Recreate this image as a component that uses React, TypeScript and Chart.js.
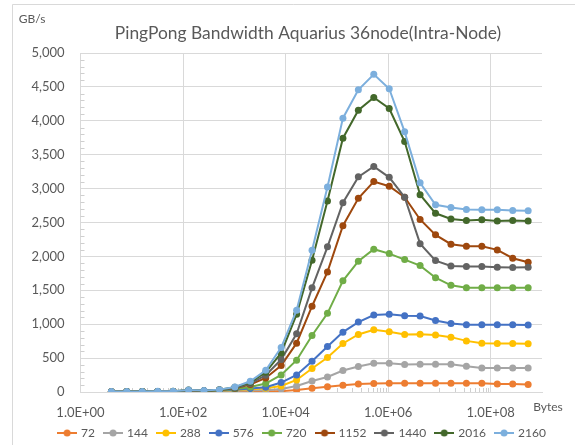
import React, { useEffect, useRef } from 'react';
import { Chart, registerables } from 'chart.js';

Chart.register(...registerables);

// ---- data ----
const bytes = [
  4, 8, 16, 32, 64, 128, 256, 512, 1024, 2048, 4096, 8192, 16384, 32768,
  65536, 131072, 262144, 524288, 1048576, 2097152, 4194304, 8388608,
  16777216, 33554432, 67108864, 134217728, 268435456, 536870912,
];

const seriesNames = ['72', '144', '288', '576', '720', '1152', '1440', '2016', '2160'];

const s72 = [3, 4, 4, 5, 5, 6, 6, 6, 8, 10, 10, 12, 30, 55, 78, 100, 118, 125, 129, 129, 129, 129, 129, 129, 129, 118, 118, 112];
const s144 = [4, 5, 5, 6, 7, 12, 12, 15, 20, 25, 25, 44, 89, 163, 222, 316, 375, 425, 425, 405, 410, 410, 410, 380, 355, 355, 355, 355];
const s288 = [4, 5, 6, 6, 8, 15, 14, 20, 30, 40, 55, 89, 178, 346, 509, 716, 849, 917, 888, 849, 853, 839, 809, 754, 720, 716, 716, 713];
const s576 = [5, 5, 6, 7, 8, 18, 15, 22, 35, 50, 70, 139, 252, 454, 671, 883, 1031, 1135, 1145, 1125, 1120, 1056, 1012, 991, 991, 991, 991, 987];
const s720 = [5, 6, 6, 7, 8, 20, 16, 25, 45, 74, 124, 252, 469, 834, 1160, 1640, 1930, 2106, 2041, 1953, 1864, 1686, 1574, 1539, 1539, 1539, 1539, 1539];
const s1152 = [5, 6, 7, 7, 9, 22, 18, 28, 55, 109, 207, 390, 720, 1265, 1771, 2453, 2858, 3104, 3035, 2873, 2545, 2318, 2180, 2151, 2151, 2096, 1973, 1914];
const s1440 = [5, 6, 7, 8, 9, 25, 19, 30, 60, 125, 247, 479, 858, 1536, 2141, 2793, 3173, 3326, 3166, 2873, 2188, 1938, 1860, 1850, 1850, 1840, 1835, 1840];
const s2016 = [5, 6, 8, 9, 10, 28, 20, 32, 70, 143, 291, 577, 1145, 1944, 2816, 3743, 4157, 4345, 4182, 3694, 2910, 2636, 2553, 2530, 2540, 2521, 2530, 2521];
const s2160 = [6, 7, 8, 10, 12, 30, 22, 35, 75, 158, 321, 656, 1206, 2090, 3024, 4039, 4458, 4685, 4473, 3837, 3087, 2762, 2722, 2692, 2688, 2688, 2678, 2673];

const seriesValues = [s72, s144, s288, s576, s720, s1152, s1440, s2016, s2160];

const xTickValues = [1, 1e2, 1e4, 1e6, 1e8];
const xTickLabels = ['1.0E+00', '1.0E+02', '1.0E+04', '1.0E+06', '1.0E+08'];

const titleText = 'PingPong Bandwidth Aquarius 36node(Intra-Node)';
const yAxisTitle = 'GB/s';
const xAxisTitle = 'Bytes';

// ---- styles ----
const colors = ['#ED7D31', '#A5A5A5', '#FFC000', '#4472C4', '#70AD47', '#9E480E', '#636363', '#43682B', '#7CAFDD'];
const FONT = 'Lato, "Noto Sans", sans-serif';
const TEXT = '#595959';
const GRID = '#d9d9d9';

function legendIcon(color: string): HTMLCanvasElement {
  const c = document.createElement('canvas');
  c.width = 20;
  c.height = 10;
  const g = c.getContext('2d')!;
  g.strokeStyle = color;
  g.lineWidth = 2;
  g.beginPath();
  g.moveTo(0, 5);
  g.lineTo(20, 5);
  g.stroke();
  g.fillStyle = color;
  g.beginPath();
  g.arc(10, 5, 3.5, 0, Math.PI * 2);
  g.fill();
  return c;
}

const decor = {
  id: 'decor',
  beforeDraw(chart: any) {
    const { ctx, width, height } = chart;
    ctx.save();
    ctx.fillStyle = '#ffffff';
    ctx.fillRect(0, 0, width, height);
    ctx.strokeStyle = GRID;
    ctx.lineWidth = 1;
    ctx.beginPath();
    ctx.moveTo(12.5, height);
    ctx.lineTo(12.5, 4.5);
    ctx.lineTo(width, 4.5);
    ctx.stroke();
    ctx.restore();
  },
  beforeDatasetsDraw(chart: any) {
    const { ctx, chartArea, scales } = chart;
    const xs = scales.x;
    const ys = scales.y;
    ctx.save();
    ctx.strokeStyle = '#cfcfcf';
    ctx.lineWidth = 1;
    ctx.beginPath();
    for (let e = 1; e <= 7; e += 2) {
      for (let k = 1; k <= 9; k++) {
        const v = k * Math.pow(10, e);
        const px = Math.round(xs.getPixelForValue(v)) + 0.5;
        ctx.moveTo(px, chartArea.bottom);
        ctx.lineTo(px, chartArea.bottom - 4);
      }
    }
    for (let v = 100; v < 5000; v += 100) {
      if (v % 500 === 0) continue;
      const py = Math.round(ys.getPixelForValue(v)) + 0.5;
      ctx.moveTo(chartArea.left, py);
      ctx.lineTo(chartArea.left + 4, py);
    }
    ctx.stroke();
    ctx.restore();
  },
  afterDraw(chart: any) {
    const { ctx } = chart;
    ctx.save();
    ctx.fillStyle = TEXT;
    ctx.textBaseline = 'middle';
    ctx.textAlign = 'center';
    ctx.font = `17.4px ${FONT}`;
    ctx.fillText(titleText, 308, 33);
    ctx.font = `12px ${FONT}`;
    ctx.fillText(yAxisTitle, 32, 19);
    ctx.fillText(xAxisTitle, 548, 407);
    ctx.restore();
  },
};

export default function App() {
  const ref = useRef<HTMLCanvasElement>(null);

  useEffect(() => {
    const datasets = seriesNames.map((name, i) => ({
      label: name,
      data: bytes.map((b, j) => ({ x: b, y: seriesValues[i][j] })),
      borderColor: colors[i],
      backgroundColor: colors[i],
      borderWidth: 2,
      pointRadius: 3.5,
      pointBorderWidth: 0,
      pointHoverRadius: 3.5,
      order: seriesNames.length - i,
      tension: 0,
    }));

    const chart = new Chart(ref.current!, {
      type: 'line',
      data: { datasets },
      plugins: [decor],
      options: {
        animation: false,
        responsive: false,
        devicePixelRatio: 1,
        layout: { padding: { left: 30, right: 0, top: 53, bottom: -4 } },
        font: { family: FONT },
        scales: {
          x: {
            type: 'logarithmic',
            min: 1,
            max: 1e9,
            afterBuildTicks: (s: any) => {
              s.ticks = xTickValues.map((v) => ({ value: v }));
            },
            afterFit: (s: any) => {
              s.height = 25;
            },
            ticks: {
              autoSkip: false,
              maxRotation: 0,
              padding: 13,
              color: TEXT,
              font: { family: FONT, size: 13 },
              callback: (_v: any, i: number) => xTickLabels[i] ?? '',
            },
            grid: { color: GRID, drawTicks: false },
            border: { color: GRID },
          },
          y: {
            min: 0,
            max: 5000,
            afterFit: (s: any) => {
              s.width = 50.5;
            },
            ticks: {
              stepSize: 500,
              padding: 16,
              color: TEXT,
              font: { family: FONT, size: 13 },
              callback: (v: any) => Number(v).toLocaleString('en-US'),
            },
            grid: { color: GRID, drawTicks: false },
            border: { color: GRID },
          },
          y2: {
            type: 'linear',
            position: 'right',
            display: true,
            afterFit: (s: any) => {
              s.width = 33;
            },
            ticks: { display: false },
            grid: { display: false, drawTicks: false },
            border: { display: false },
          },
        },
        plugins: {
          title: { display: false },
          tooltip: { enabled: false },
          legend: {
            position: 'bottom',
            labels: {
              usePointStyle: true,
              pointStyleWidth: 16,
              padding: 10,
              color: TEXT,
              font: { family: FONT, size: 12 },
              generateLabels: (c: any) =>
                c.data.datasets.map((ds: any, i: number) => ({
                  text: ds.label,
                  pointStyle: legendIcon(colors[i]),
                  fillStyle: colors[i],
                  strokeStyle: colors[i],
                  lineWidth: 0,
                  hidden: false,
                  datasetIndex: i,
                  fontColor: TEXT,
                })),
            },
          },
        },
      } as any,
    });
    return () => chart.destroy();
  }, []);

  return (
    <div style={{ position: 'fixed', left: 0, top: 0, width: 575, height: 445, background: '#fff' }}>
      <canvas ref={ref} width={575} height={445} style={{ display: 'block' }} />
    </div>
  );
}
